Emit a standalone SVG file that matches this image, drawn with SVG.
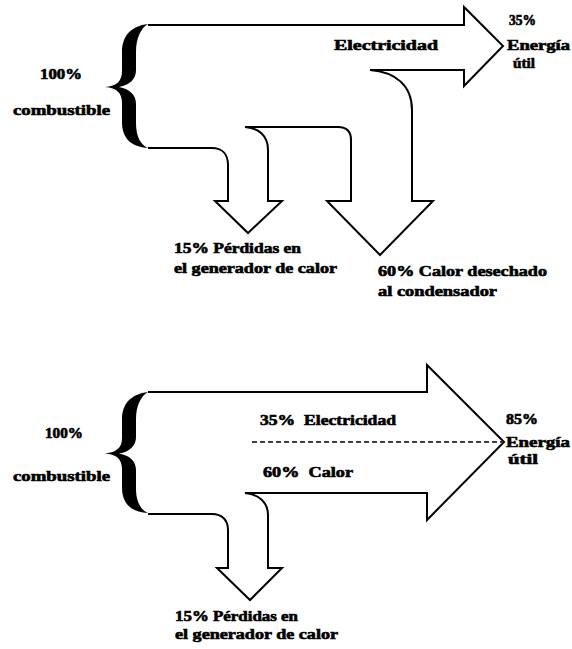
<svg xmlns="http://www.w3.org/2000/svg" xmlns:xlink="http://www.w3.org/1999/xlink" width="572" height="649" viewBox="0 0 572 649">
  <style>
    .t { font-family: "Liberation Serif", "Times New Roman", serif; font-weight: bold; font-size: 14px; fill: #000; stroke: #000; stroke-width: 0.6; }
    .flow { fill: none; stroke: #000; stroke-width: 2; stroke-linejoin: miter; }
    .dash { fill: none; stroke: #000; stroke-width: 1.6; stroke-dasharray: 5 3; }
    .brace { fill: #000; }
  </style>
  <defs>
    <path id="brace" d="M148,0 C131,2 122,12 122,28 L122,47 C122,57 117,62 105,63 C117,64 122,69 122,79 L122,98 C122,114 131,123 148,124 C141,121 136,113 136,99 L136,80 C136,71 130,65 119,63 C130,61 136,55 136,46 L136,28 C136,14 141,4 148,0 Z"/>
  </defs>
  <rect width="572" height="649" fill="#ffffff"/>

  <g id="connectors">
    <path class="flow" d="M148,25 L464,25 L464,7 L503,46 L464,86 L464,70 L370,70 C395,72 412,85 412,110 L412,201 L433,201 L380,255 L327,201 L351,201 L351,140 C351,131 346,127 338,127 L245,127 C258,128 268,135 268,150 L268,201 L282,201 L248,233 L215,201 L228,201 L228,165 C228,154 222,148 212,148 L148,148"/>
    <path class="flow" d="M148,392 L427,392 L427,365 L504,442 L427,520 L427,493 L245,493 C258,494 268,502 268,515 L268,568 L282,568 L250,600 L217,568 L228,568 L228,530 C228,520 222,514 212,514 L148,514"/>
    <path class="dash" d="M252,442 L502,442"/>
  </g>

  <g id="fuel-top">
    <use xlink:href="#brace" href="#brace" transform="translate(0,24)" class="brace"/>
    <text class="t" x="40" y="79" textLength="42" lengthAdjust="spacingAndGlyphs">100%</text>
    <text class="t" x="13" y="115" textLength="97" lengthAdjust="spacingAndGlyphs">combustible</text>
  </g>
  <g id="electricity-top">
    <text class="t" x="334" y="50" textLength="104" lengthAdjust="spacingAndGlyphs">Electricidad</text>
  </g>
  <g id="useful-top">
    <text class="t" x="509" y="25" textLength="27" lengthAdjust="spacingAndGlyphs">35%</text>
    <text class="t" x="507" y="50" textLength="63" lengthAdjust="spacingAndGlyphs">Energía</text>
    <text class="t" x="513" y="68" textLength="22" lengthAdjust="spacingAndGlyphs">útil</text>
  </g>
  <g id="loss-top">
    <text class="t" x="174" y="253" textLength="127" lengthAdjust="spacingAndGlyphs">15% Pérdidas en</text>
    <text class="t" x="174" y="273" textLength="163" lengthAdjust="spacingAndGlyphs">el generador de calor</text>
  </g>
  <g id="condenser-top">
    <text class="t" x="378" y="276" textLength="169" lengthAdjust="spacingAndGlyphs">60% Calor desechado</text>
    <text class="t" x="378" y="296" textLength="119" lengthAdjust="spacingAndGlyphs">al condensador</text>
  </g>

  <g id="fuel-bottom">
    <use xlink:href="#brace" href="#brace" transform="translate(0,392) scale(1,0.976)" class="brace"/>
    <text class="t" x="45" y="438" textLength="38" lengthAdjust="spacingAndGlyphs">100%</text>
    <text class="t" x="13" y="481" textLength="97" lengthAdjust="spacingAndGlyphs">combustible</text>
  </g>
  <g id="flows-bottom">
    <text class="t" x="260" y="425" textLength="136" lengthAdjust="spacingAndGlyphs" xml:space="preserve">35%  Electricidad</text>
    <text class="t" x="263" y="477" textLength="90" lengthAdjust="spacingAndGlyphs" xml:space="preserve">60%  Calor</text>
  </g>
  <g id="useful-bottom">
    <text class="t" x="506" y="424" textLength="32" lengthAdjust="spacingAndGlyphs">85%</text>
    <text class="t" x="506" y="447" textLength="64" lengthAdjust="spacingAndGlyphs">Energía</text>
    <text class="t" x="508" y="464" textLength="30" lengthAdjust="spacingAndGlyphs">útil</text>
  </g>
  <g id="loss-bottom">
    <text class="t" x="175" y="621" textLength="123" lengthAdjust="spacingAndGlyphs">15% Pérdidas en</text>
    <text class="t" x="175" y="639" textLength="163" lengthAdjust="spacingAndGlyphs">el generador de calor</text>
  </g>
</svg>
